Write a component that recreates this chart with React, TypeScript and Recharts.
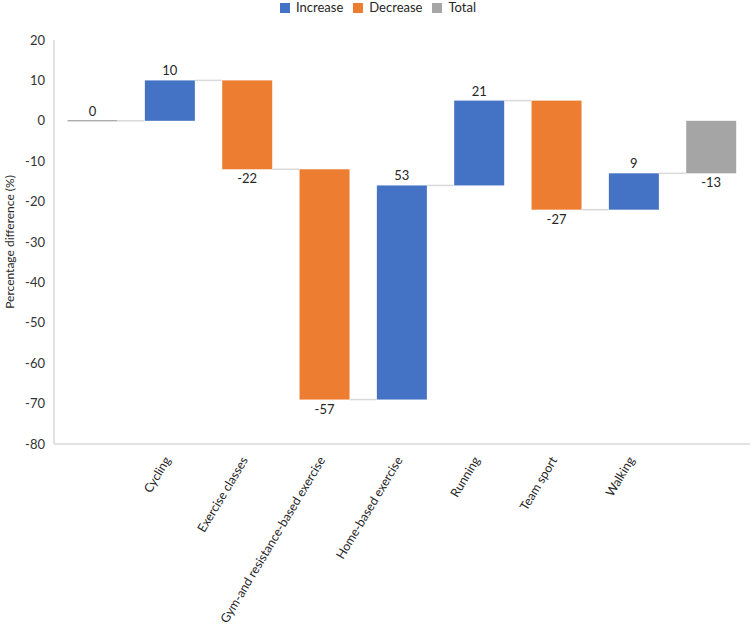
import React from "react"
import { BarChart, Bar, XAxis, YAxis } from "recharts"

const categories = [
  "start",
  "Cycling",
  "Exercise classes",
  "Gym-and resistance-based exercise",
  "Home-based exercise",
  "Running",
  "Team sport",
  "Walking",
  "total",
]
const tickLabels = [
  "",
  "Cycling",
  "Exercise classes",
  "Gym-and resistance-based exercise",
  "Home-based exercise",
  "Running",
  "Team sport",
  "Walking",
  "",
]
const changes = [0, 10, -22, -57, 53, 21, -27, 9, -13]
const kinds = ["total", "increase", "decrease", "decrease", "increase", "increase", "decrease", "increase", "total"]
const yTicks = [-80, -70, -60, -50, -40, -30, -20, -10, 0, 10, 20]

const COLORS: Record<string, string> = {
  increase: "#4472C4",
  decrease: "#ED7D31",
  total: "#A5A5A5",
}
const LEGEND = [
  { key: "increase", label: "Increase" },
  { key: "decrease", label: "Decrease" },
  { key: "total", label: "Total" },
]

const FONT = "Lato, 'Open Sans', sans-serif"
const TEXT = "#262626"
const GAP = 0.175 // barCategoryGap share on each side

function buildData() {
  let level = 0
  return categories.map((name, i) => {
    const kind = kinds[i]
    const start = kind === "total" ? 0 : level
    const end = kind === "total" ? changes[i] : level + changes[i]
    level = end
    return {
      name,
      kind,
      value: changes[i],
      start,
      end,
      range: [Math.min(start, end), Math.max(start, end)],
      isLast: i === categories.length - 1,
    }
  })
}

const data = buildData()

const WaterfallBar = (props: any) => {
  const { x, y, width, height, payload } = props
  const top = Math.min(y, y + height)
  const bottom = Math.max(y, y + height)
  const endY = payload.end >= payload.start ? top : bottom
  const gap = (width * 2 * GAP) / (1 - 2 * GAP)
  const below = payload.value < 0
  const flat = bottom - top < 1

  return (
    <g>
      {flat ? (
        <line x1={x} x2={x + width} y1={top} y2={top} stroke="#8c8c8c" strokeWidth={1} />
      ) : (
        <rect x={x} y={top} width={width} height={bottom - top} fill={COLORS[payload.kind]} />
      )}
      {!payload.isLast && (
        <line x1={x + width} x2={x + width + gap} y1={endY} y2={endY} stroke="#D9D9D9" strokeWidth={1.5} />
      )}
      <text
        x={x + width / 2}
        y={below ? bottom + 14 : top - 5}
        textAnchor="middle"
        fontSize={13}
        fontFamily={FONT}
        fill={TEXT}
      >
        {payload.value}
      </text>
    </g>
  )
}

const XTick = ({ x, y, index }: any) => {
  const label = tickLabels[index]
  if (!label) return null
  const ax = x + 1
  const ay = y + 8
  return (
    <text
      x={ax}
      y={ay}
      textAnchor="end"
      fontSize={12.4}
      fontFamily={FONT}
      fill={TEXT}
      transform={`rotate(-59, ${ax}, ${ay})`}
    >
      {label}
    </text>
  )
}

const YTitle = ({ viewBox }: any) => {
  const cx = viewBox.x + 9
  const cy = viewBox.y + viewBox.height / 2
  return (
    <text
      x={cx}
      y={cy}
      textAnchor="middle"
      dominantBaseline="central"
      fontSize={12}
      fontFamily={FONT}
      fill={TEXT}
      transform={`rotate(-90, ${cx}, ${cy})`}
    >
      Percentage difference (%)
    </text>
  )
}

export default function App() {
  return (
    <div style={{ position: "relative", width: 752, height: 631, background: "#fff" }}>
      <style>{"body{margin:0}"}</style>

      {/* Legend */}
      <div
        style={{
          position: "absolute",
          top: 0,
          left: 280,
          display: "flex",
          alignItems: "center",
          gap: 10,
          fontFamily: FONT,
          fontSize: 13,
          color: TEXT,
          lineHeight: "15px",
        }}
      >
        {LEGEND.map(({ key, label }) => (
          <div key={key} style={{ display: "flex", alignItems: "center", gap: 6 }}>
            <span style={{ width: 10, height: 10, background: COLORS[key], display: "inline-block" }} />
            <span>{label}</span>
          </div>
        ))}
      </div>

      <BarChart
        width={752}
        height={631}
        data={data}
        margin={{ top: 40, right: 2, bottom: 0, left: 0 }}
        barCategoryGap={`${GAP * 100}%`}
      >
        <XAxis
          dataKey="name"
          height={187}
          interval={0}
          tick={<XTick />}
          tickLine={false}
          axisLine={{ stroke: "#D9D9D9", strokeWidth: 1.5 }}
        />
        <YAxis
          width={54}
          domain={[-80, 20]}
          ticks={yTicks}
          interval={0}
          tickLine={false}
          tickMargin={3}
          axisLine={{ stroke: "#D9D9D9", strokeWidth: 1.5 }}
          tick={{ fontSize: 13, fontFamily: FONT, fill: "#333" }}
          label={<YTitle />}
        />
        <Bar dataKey="range" isAnimationActive={false} shape={<WaterfallBar />} />
      </BarChart>
    </div>
  )
}
